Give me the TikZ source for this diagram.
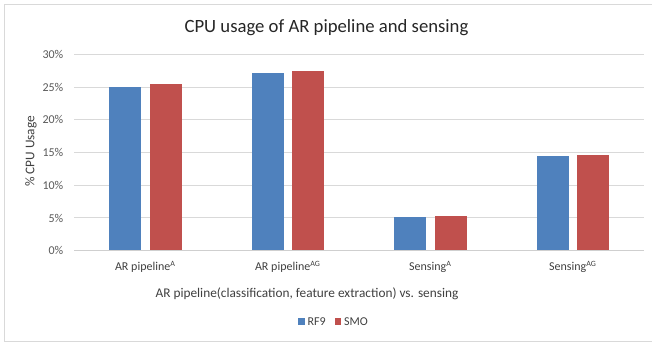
\documentclass[tikz,border=0pt]{standalone}
\usepackage{fontspec}
\setmainfont{Carlito}
\definecolor{barblue}{HTML}{4F81BD}
\definecolor{barred}{HTML}{C0504D}
\definecolor{gridgray}{HTML}{D9D9D9}
\definecolor{axisgray}{HTML}{CFCFCF}
\definecolor{ticktext}{HTML}{595959}
\definecolor{labeltext}{HTML}{404040}
\begin{document}
\begin{tikzpicture}[x=1pt,y=-1pt,
  gridline/.style={draw=gridgray,line width=1pt},
  ticklabel/.style={anchor=east,inner sep=0pt,text=ticktext,font=\fontsize{12}{14}\selectfont},
  catlabel/.style={inner sep=0pt,text=labeltext,font=\fontsize{12}{14}\selectfont},
  legendtext/.style={anchor=west,inner sep=0pt,text=labeltext,font=\fontsize{12}{14}\selectfont},
  rfbar/.style={fill=barblue},
  smobar/.style={fill=barred}]
\useasboundingbox (0,0) rectangle (652,343);
\clip (0,0) rectangle (652,343);
\fill[white] (0,0) rectangle (652,343);
% chart frame
\draw[gridgray,line width=1pt] (4.5,4.5) rectangle (660,341.5);

% title
\node[inner sep=0pt,text=black!85,font=\fontsize{18.7}{22}\selectfont] (title) at (326.5,28) {CPU usage of AR pipeline and sensing};

% value axis: gridlines and tick labels (0% at y=250.7, 6.546 px per %)
\foreach \v in {5,10,...,30}{
  \draw[gridline] (74,{250.7-\v*6.546}) -- (644,{250.7-\v*6.546});
}
\foreach \v in {0,5,...,30}{
  \node[ticklabel] (tick\v) at (63.5,{250.7-\v*6.546}) {\v\%};
}
\node[rotate=90,inner sep=0pt,text=labeltext,font=\fontsize{13.3}{16}\selectfont] (ytitle) at (31,151.5) {\% CPU Usage};

% bars: category / RF9 value / SMO value
\foreach \i/\a/\b in {1/25.0/25.4, 2/27.1/27.45, 3/5.19/5.24, 4/14.51/14.62}{
  \pgfmathsetmacro{\cx}{74+142.5*(\i-0.5)}
  \fill[rfbar]  ({\cx-36.2},250.7) rectangle ({\cx-4.2},{250.7-\a*6.546});
  \fill[smobar] ({\cx+4.4},250.7) rectangle ({\cx+36.4},{250.7-\b*6.546});
}

% category axis line
\draw[draw=axisgray,line width=1.3pt] (74,250.7) -- (644,250.7);

% category labels
\node[catlabel] (cat1) at (145.25,266.7) {AR pipeline\textsuperscript{A}};
\node[catlabel] (cat2) at (287.75,266.7) {AR pipeline\textsuperscript{AG}};
\node[catlabel] (cat3) at (430.25,266.7) {Sensing\textsuperscript{A}};
\node[catlabel] (cat4) at (572.75,266.7) {Sensing\textsuperscript{AG}};

% category axis title
\node[inner sep=0pt,text=labeltext,font=\fontsize{13.3}{16}\selectfont] (xtitle) at (307,294) {AR pipeline(classification, feature extraction) vs. sensing};

% legend
\node[rfbar,minimum size=6.5pt,inner sep=0pt] (keyrf) at (301.5,321.7) {};
\node[legendtext] (txtrf) at (307.5,321.7) {RF9};
\node[smobar,minimum size=6.5pt,inner sep=0pt] (keysmo) at (338,321.7) {};
\node[legendtext] (txtsmo) at (344,321.7) {SMO};
\end{tikzpicture}
\end{document}
